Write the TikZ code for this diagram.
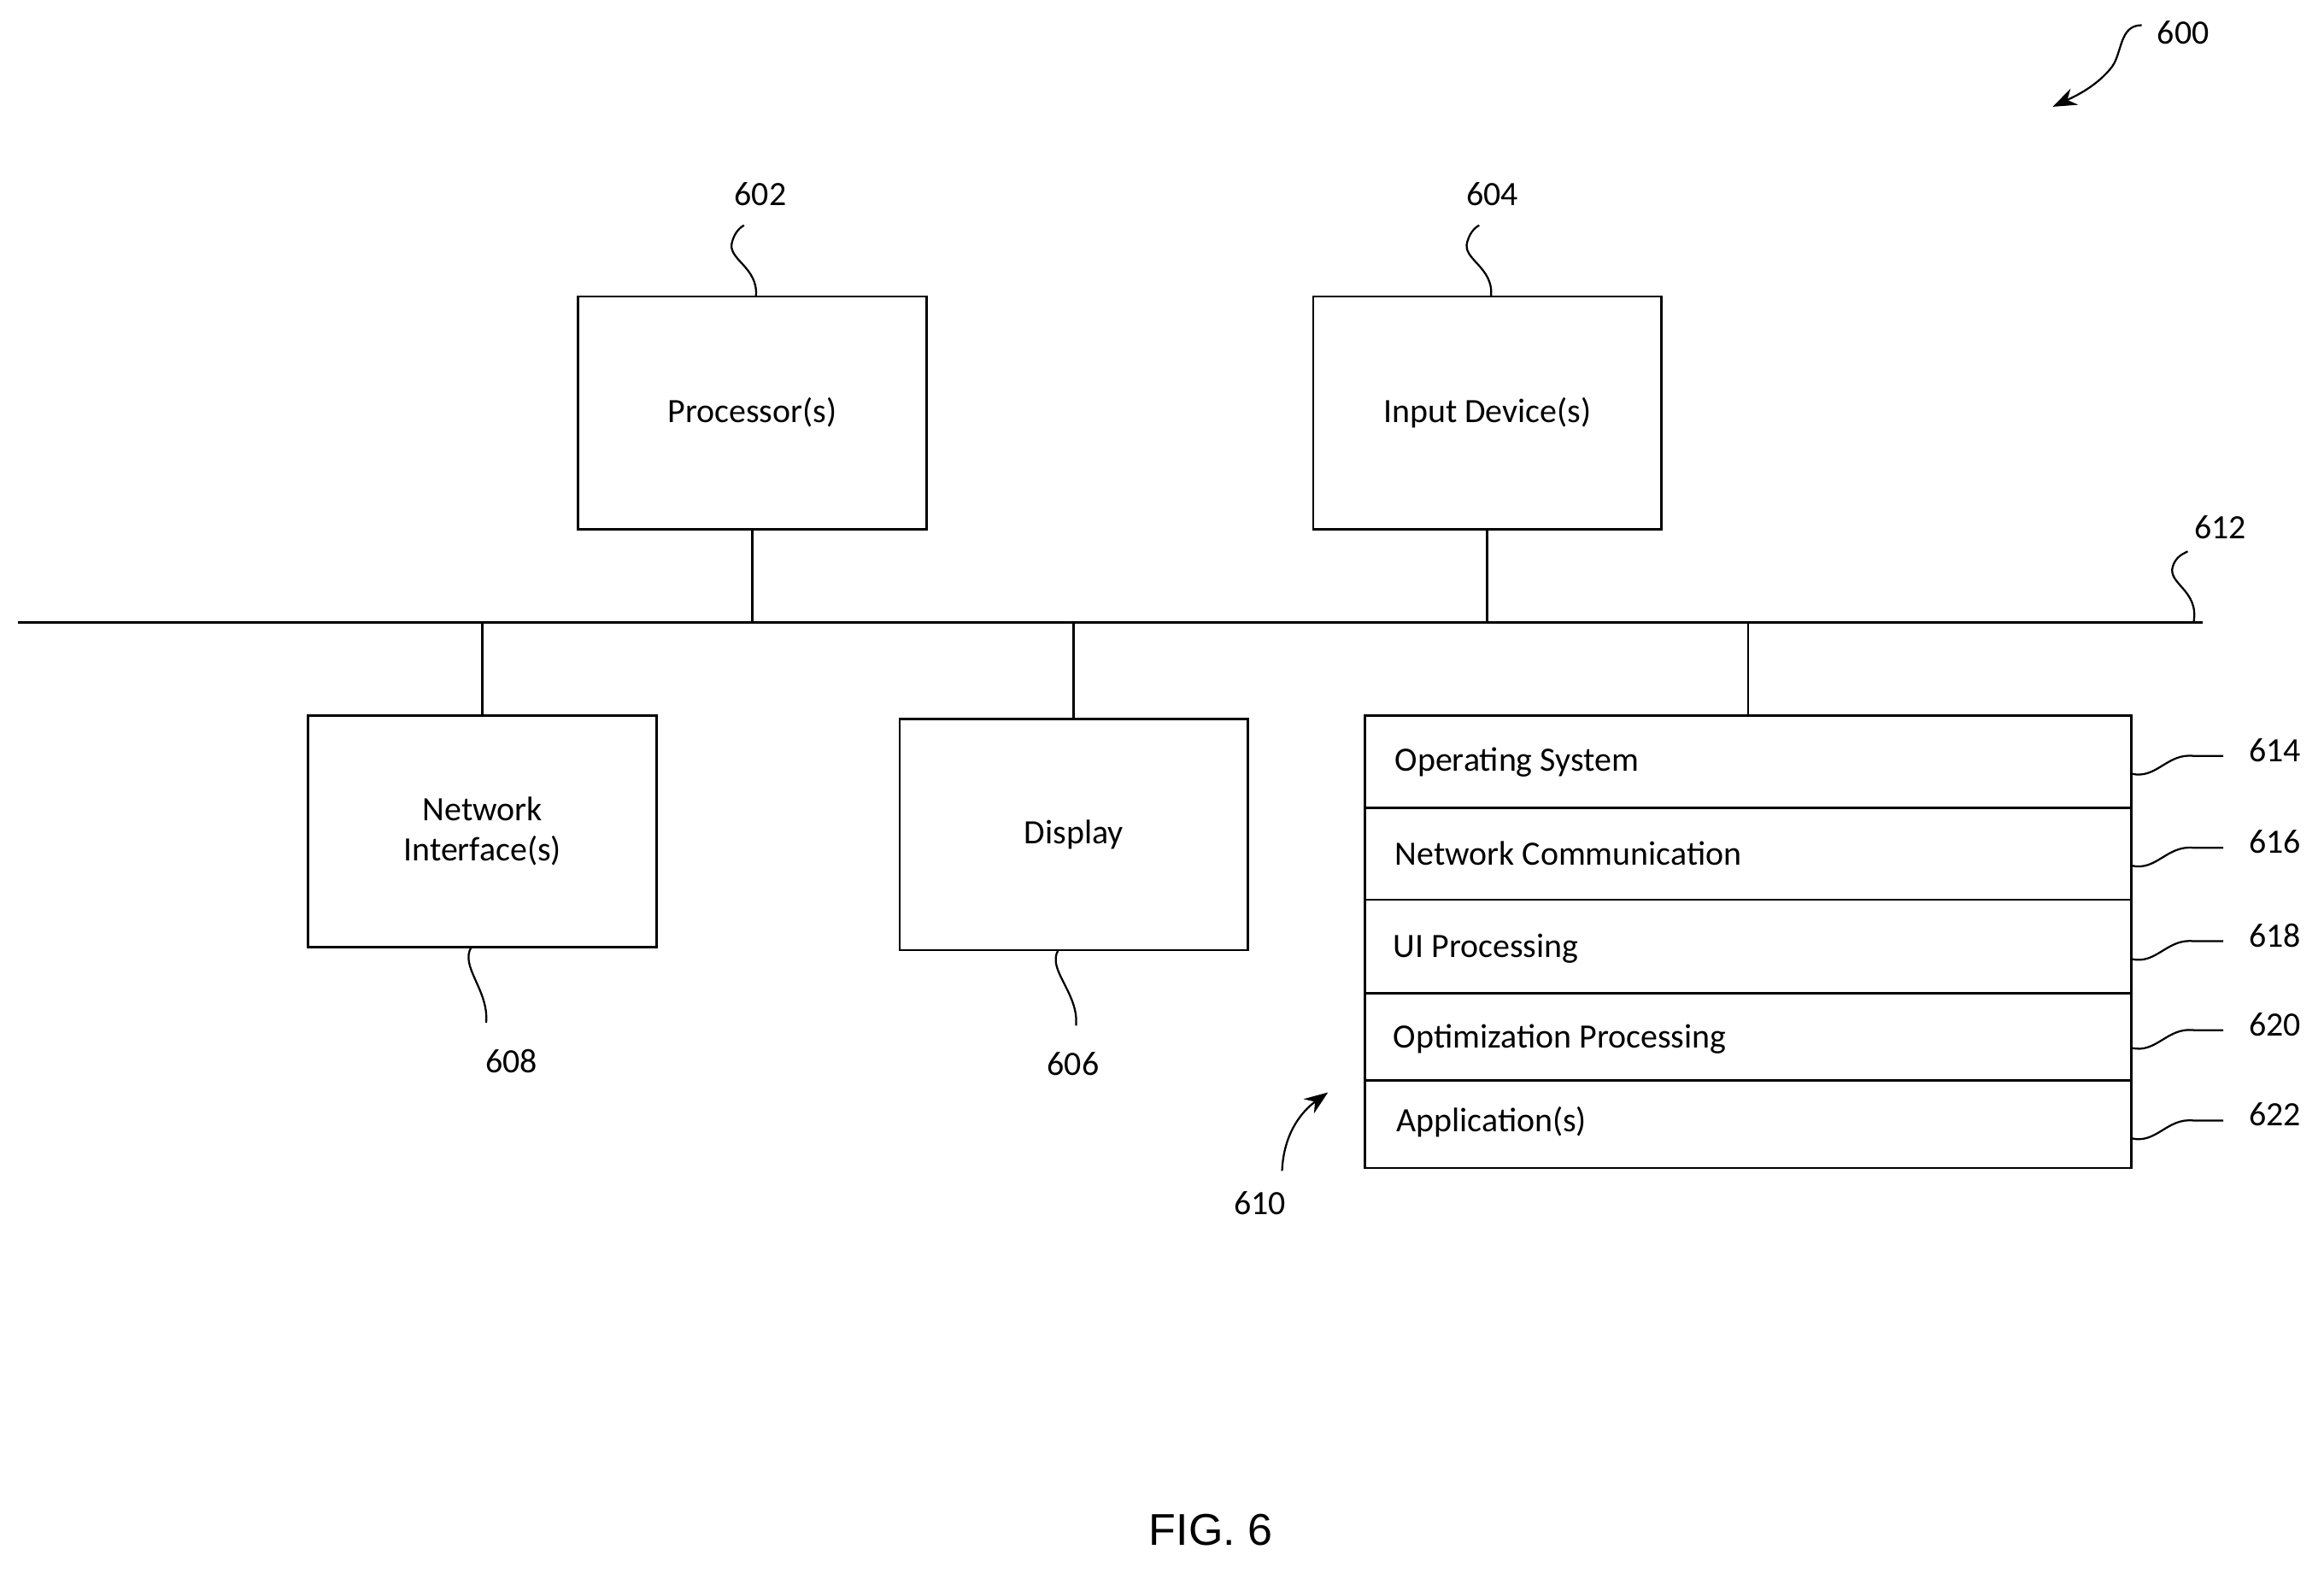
\documentclass[tikz,border=0pt]{standalone}
\usepackage{fontspec}
\setmainfont{Carlito}
\newfontfamily\figfont{Liberation Sans}
\usetikzlibrary{arrows.meta}
\begin{document}
\begin{tikzpicture}[x=1pt,y=-1pt,
  box/.style={draw,line width=1.6pt,inner sep=0pt,align=center,font=\fontsize{23}{27}\selectfont},
  lbl/.style={font=\fontsize{23}{27}\selectfont,inner sep=1pt},
  ln/.style={line width=1.6pt},
  sq/.style={line width=1.3pt},
  item/.style={anchor=west,font=\fontsize{23}{27}\selectfont,inner sep=0pt}]
\useasboundingbox (0,0) rectangle (1568,1061);
\node[box,minimum width=235,minimum height=157] (p) at (507.5,278.5) {Processor(s)};
\node[box,minimum width=235,minimum height=157] (in) at (1003.5,278.5) {Input Device(s)};
\node[box,minimum width=235,minimum height=156] (ni) at (325.5,561) {Network\\Interface(s)};
\node[box,minimum width=235,minimum height=156] (d) at (724.5,563) {Display};
\node[draw,line width=1.6pt,minimum width=517,minimum height=305,inner sep=0pt] (st) at (1179.5,635.5) {};
\foreach \y in {545,607,670,729} \draw[ln] (921,\y) -- (1438,\y);
\node[item] (t1) at (941,514) {Operating System};
\node[item] (t2) at (941,576) {Network Communication};
\node[item] (t3) at (940,640) {UI Processing};
\node[item] (t4) at (940,701) {Optimization Processing};
\node[item] (t5) at (942,757) {Application(s)};
\coordinate (b0) at (12,420); \coordinate (b1) at (1486,420);
\draw[ln] (b0) -- (b1);
\draw[ln] (p.south) -- (p.south |- b0);
\draw[ln] (in.south) -- (in.south |- b0);
\draw[ln] (ni.north) -- (ni.north |- b0);
\draw[ln] (d.north) -- (d.north |- b0);
\draw[ln] (st.north) -- (st.north |- b0);
% labels
\node[lbl] (l602) at (513,131) {602};
\node[lbl] (l604) at (1007,131) {604};
\node[lbl] (l608) at (345,716) {608};
\node[lbl] (l606) at (724,718) {606};
\node[lbl] (l612) at (1498,356) {612};
\node[lbl] (l610) at (850,812) {610};
\node[lbl] (l600) at (1473,22) {600};
\node[font=\figfont\fontsize{30}{34}\selectfont] (fig) at (817,1032) {FIG. 6};
\draw[sq] (510,200) .. controls (512,180) and (490,175) .. (494,163) .. controls (496,156) and (500,153) .. (502,152);
\draw[sq] (1006,200) .. controls (1008,180) and (986,175) .. (990,163) .. controls (992,156) and (996,153) .. (998,152);
\draw[sq] (318,639) .. controls (310,652) and (330,668) .. (328,690);
\draw[sq] (714,641) .. controls (706,654) and (728,670) .. (726,692);
\draw[sq] (1480,420) .. controls (1484,398) and (1462,394) .. (1466,382) .. controls (1468,376) and (1472,374) .. (1476,372);
\foreach \y/\n in {522/614,584/616,647/618,707/620,768/622}{
  \node[lbl] (r\n) at (1535,\y-16) {\n};
  \draw[sq] (1438,\y) .. controls (1455,\y+4) and (1462,\y-14) .. (1480,\y-12) .. controls (1490,\y-12) and (1496,\y-12) .. (1500,\y-12);
}
\draw[sq,-{Stealth[length=16pt,width=12pt]}] (865,790) .. controls (866,765) and (878,750) .. (896,737);
\draw[sq,-{Stealth[length=16pt,width=12pt]}] (1445,17) .. controls (1430,17) and (1432,35) .. (1425,45) .. controls (1415,58) and (1400,65) .. (1385,72);
\end{tikzpicture}
\end{document}
